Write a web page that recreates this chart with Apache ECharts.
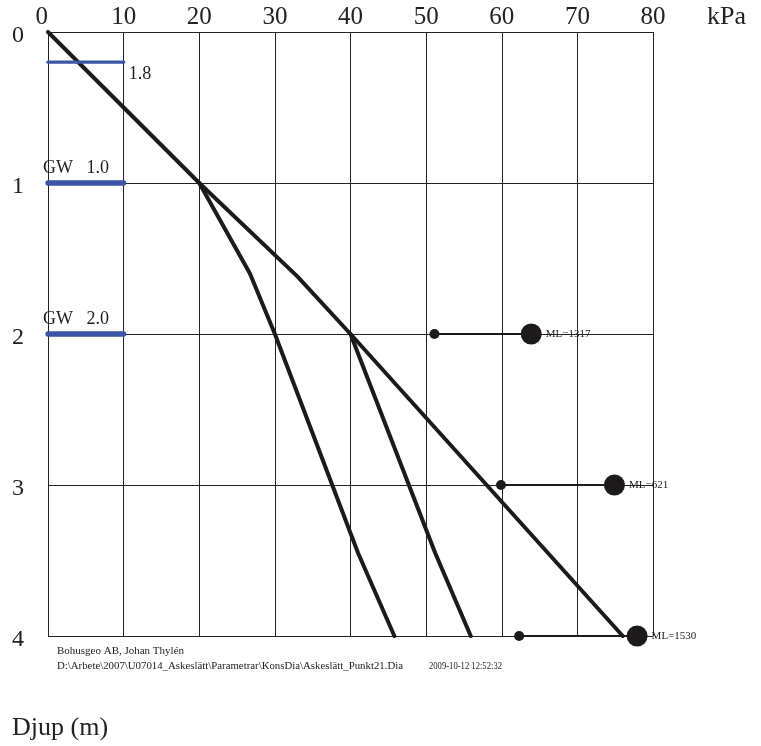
<!DOCTYPE html>
<html>
<head>
<meta charset="utf-8">
<script src="https://cdn.jsdelivr.net/npm/echarts@6/dist/echarts.min.js"></script>
<style>
html,body{margin:0;padding:0;background:#fff;}
#chart{width:761px;height:746px;}
</style>
</head>
<body>
<div id="chart"></div>
<script>
// ---- data ----
const xMin = 0, xMax = 80, xStep = 10;
const yMin = 0, yMax = 4, yStep = 1;
const xUnit = 'kPa';
const yTitle = 'Djup (m)';

// strength profiles (kPa, depth m)
const profileA = [[0, 0], [20, 1], [33, 1.62], [40, 2], [76, 4]];
const profileB = [[20, 1], [26.7, 1.6], [30, 2], [41, 3.45], [45.8, 4]];
const profileC = [[40, 2], [51.2, 3.45], [55.9, 4]];

// groundwater marks
const gwDepths = [0.2, 1.0, 2.0];
const gwFrom = [0, 0, 0];
const gwTo = [10, 10, 10];
const gwLabels = ['1.8', 'GW   1.0', 'GW   2.0'];

// ML markers
const mlDepths = [2, 3, 4];
const mlStart = [51.1, 59.9, 62.3];
const mlEnd = [63.9, 74.9, 77.9];
const mlLabels = ['ML=1317', 'ML=621', 'ML=1530'];

const footer1 = 'Bohusgeo AB, Johan Thylén';
const footerPath = 'D:\\Arbete\\2007\\U07014_Askeslätt\\Parametrar\\KonsDia\\Askeslätt_Punkt21.Dia';
const footerDate = '2009-10-12 12:52:32';

// ---- chart ----
const FONT = '"Liberation Serif", "Times New Roman", serif';
const INK = '#1c1a1a';
const BLUE = '#3a54a6';

// horizontal fit helper for the condensed footer text
const mctx = document.createElement('canvas').getContext('2d');
function fitScale(text, font, target) {
  mctx.font = font;
  return target / mctx.measureText(text).width;
}

const series = [];
[profileA, profileB, profileC].forEach(function (p) {
  series.push({
    type: 'line', data: p, symbol: 'none', silent: true,
    lineStyle: { color: INK, width: 4, cap: 'round', join: 'round' }, z: 3
  });
});
gwDepths.forEach(function (d, i) {
  const first = i === 0;
  series.push({
    type: 'line', symbol: 'none', silent: true, z: 4,
    lineStyle: { color: BLUE, width: first ? 3.3 : 5.3, cap: 'round' },
    data: [[gwFrom[i], d], [gwTo[i], d]]
  });
  // text label of the groundwater mark
  series.push({
    type: 'scatter', silent: true, z: 6, symbolSize: 1,
    itemStyle: { color: 'rgba(0,0,0,0)' },
    label: { show: true, formatter: gwLabels[i], align: 'left',
      fontFamily: FONT, fontSize: 18, color: '#1e1e1e', opacity: 1,
      position: first ? 'bottom' : 'top', distance: first ? 3 : 5,
      offset: first ? [5, 0] : [-5, 0] },
    data: [first ? [gwTo[i], d] : [gwFrom[i], d]]
  });
});
mlDepths.forEach(function (d, i) {
  series.push({
    type: 'line', silent: true, z: 5,
    lineStyle: { color: INK, width: 2 },
    itemStyle: { color: INK },
    symbol: 'circle',
    showSymbol: true,
    data: [
      { value: [mlStart[i], d], symbolSize: 10 },
      { value: [mlEnd[i], d], symbolSize: 21,
        label: { show: true, formatter: mlLabels[i], position: 'right', distance: 4,
          fontFamily: FONT, fontSize: 11, color: '#1e1e1e' } }
    ]
  });
});

const f1 = '11px ' + FONT;

const chart = echarts.init(document.getElementById('chart'));
chart.setOption({
  backgroundColor: '#fff',
  animation: false,
  grid: { left: 48, right: 108, top: 32, bottom: 110, containLabel: false },
  xAxis: {
    type: 'value', position: 'top', min: xMin, max: xMax, interval: xStep,
    name: xUnit, nameLocation: 'end', nameGap: 54,
    nameTextStyle: { fontFamily: FONT, fontSize: 26, color: '#222', verticalAlign: 'bottom', padding: [0, 0, 2, 0] },
    axisLine: { show: true, lineStyle: { color: '#222', width: 1 } },
    axisTick: { show: false },
    axisLabel: { fontFamily: FONT, fontSize: 25, color: '#222', margin: 2, alignMinLabel: 'right' },
    splitLine: { show: true, lineStyle: { color: '#222', width: 1 } }
  },
  yAxis: {
    type: 'value', inverse: true, min: yMin, max: yMax, interval: yStep,
    axisLine: { show: true, lineStyle: { color: '#222', width: 1 } },
    axisTick: { show: false },
    axisLabel: { fontFamily: FONT, fontSize: 24, color: '#222', margin: 36, align: 'left',
      verticalAlign: 'top', lineHeight: 8 },
    splitLine: { show: true, lineStyle: { color: '#222', width: 1 } }
  },
  graphic: [
    { type: 'text', x: 57, y: 646, scaleX: fitScale(footer1, f1, 127),
      style: { text: footer1, font: f1, fill: '#222' } },
    { type: 'text', x: 57, y: 661, scaleX: fitScale(footerPath, f1, 346),
      style: { text: footerPath, font: f1, fill: '#222' } },
    { type: 'text', x: 429, y: 661, scaleX: fitScale(footerDate, f1, 73),
      style: { text: footerDate, font: f1, fill: '#222' } },
    { type: 'text', x: 12, y: 715, style: { text: yTitle, font: '26px ' + FONT, fill: '#222' } }
  ],
  series: series
});
</script>
</body>
</html>
